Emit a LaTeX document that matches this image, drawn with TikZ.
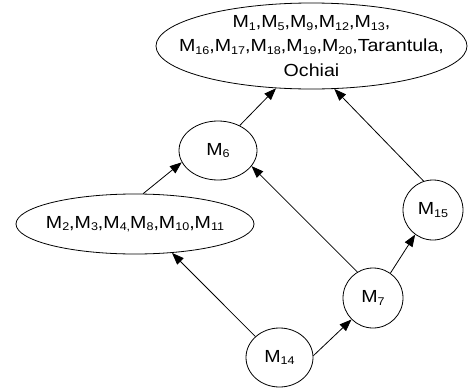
\documentclass[tikz,border=0pt]{standalone}
\usepackage{fontspec}
\setmainfont[FakeStretch=1.12]{Liberation Sans}
\usetikzlibrary{shapes.geometric,arrows.meta}
\newcommand\Msub[1]{M\raisebox{-2.6pt}{\fontsize{11.2}{11.2}\selectfont #1}}
\begin{document}
\begin{tikzpicture}[x=1pt,y=-1pt,
  every node/.style={font=\fontsize{17.5}{24.3}\selectfont},
  grp/.style={draw,ellipse,line width=0.8pt,inner sep=0pt,align=center},
  arr/.style={line width=0.8pt,-{Triangle[length=12pt,width=9pt]}}]
\useasboundingbox (0,0) rectangle (469,391);
\node[grp,inner xsep=-40pt,inner ysep=-6pt,minimum width=311pt,minimum height=86pt] (top) at (311.5,46)
  {\Msub{1},\Msub{5},\Msub{9},\Msub{12},\Msub{13},\\
   \Msub{16},\Msub{17},\Msub{18},\Msub{19},\Msub{20},Tarantula,\\
   Ochiai};
\node[grp,inner xsep=-20pt,inner ysep=-4pt,minimum width=238pt,minimum height=60pt] (left) at (135,224)
  {\Msub{2},\Msub{3},\Msub{4,}\Msub{8},\Msub{10},\Msub{11}};
\node[grp,minimum width=78pt,minimum height=59pt] (m6) at (218,150.5) {\Msub{6}};
\node[grp,minimum width=60pt,minimum height=60pt] (m7) at (373,298) {\Msub{7}};
\node[grp,minimum width=60pt,minimum height=60pt] (m15) at (433,210) {\Msub{15}};
\node[grp,minimum width=67pt,minimum height=59pt] (m14) at (279.5,357.5) {\Msub{14}};
\draw[arr] (m6.49) -- (top.-130);
\draw[arr] (m15.108) -- (top.-62);
\draw[arr] (left.75) -- (m6.198);
\draw[arr] (m7.121) -- (m6.-25);
\draw[arr] (m7.55) -- (m15.234);
\draw[arr] (m14.3) -- (m7.225);
\draw[arr] (m14.139) -- (left.-38);
\end{tikzpicture}
\end{document}
